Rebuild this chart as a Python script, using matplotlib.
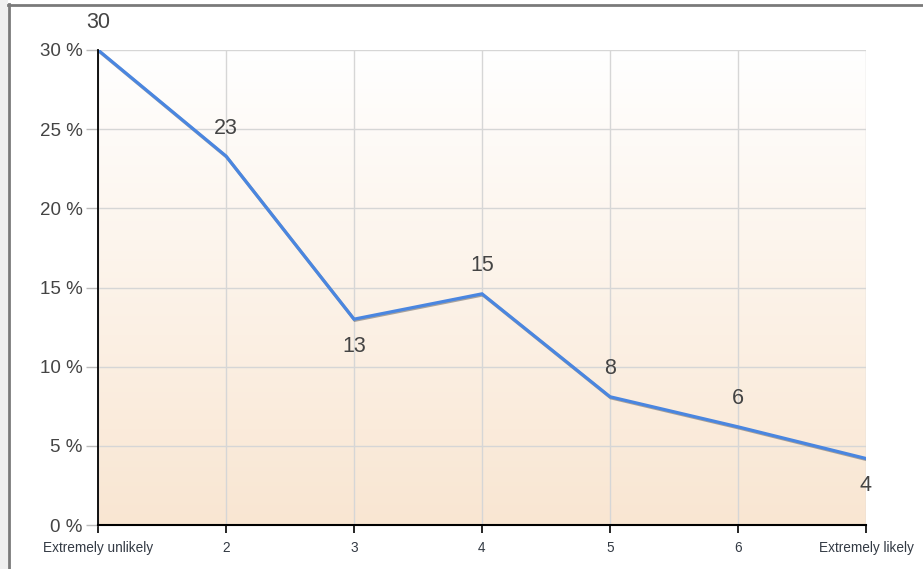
import numpy as np
import matplotlib
matplotlib.use("Agg")
import matplotlib.pyplot as plt
import matplotlib.patheffects as pe
from matplotlib.lines import Line2D
from matplotlib.patches import Rectangle
from matplotlib.colors import LinearSegmentedColormap

# ── Datos ─────────────────────────────────────────────────────────────────────
categorias = ["Extremely unlikely", "2", "3", "4", "5", "6", "Extremely likely"]
porcentajes = [30.0, 23.3, 13.0, 14.6, 8.1, 6.2, 4.2]
yticks = [0, 5, 10, 15, 20, 25, 30]

plt.rcParams["font.family"] = ["Liberation Sans", "DejaVu Sans"]

W, H = 923, 569
fig = plt.figure(figsize=(W / 100, H / 100), dpi=100)
fig.patch.set_facecolor("white")

# marco exterior
fig.add_artist(Rectangle((0, 0), 8 / W, 1, transform=fig.transFigure,
                         facecolor="#efefef", edgecolor="none"))
fig.add_artist(Line2D([8.5 / W, 8.5 / W], [0, 1 - 4 / H], transform=fig.transFigure,
                      color="#7a7a7a", lw=2))
fig.add_artist(Line2D([8 / W, 1], [1 - 4.5 / H, 1 - 4.5 / H], transform=fig.transFigure,
                      color="#7a7a7a", lw=2))

ax = fig.add_axes([98 / W, 1 - 525 / H, (866 - 98) / W, (525 - 50) / H])
x = np.arange(len(categorias))
ax.set_xlim(0, len(categorias) - 1)
ax.set_ylim(0, 30)

# fondo degradado
cmap = LinearSegmentedColormap.from_list("fondo", ["#f9e6d2", "#ffffff"])
grad = np.linspace(0, 1, 256).reshape(-1, 1)
ax.imshow(grad, aspect="auto", cmap=cmap, origin="lower",
          extent=[0, len(categorias) - 1, 0, 30], zorder=0)

for xv in x:
    ax.axvline(xv, color="#d6d6d6", lw=1, zorder=1)
for yv in yticks:
    ax.axhline(yv, color="#d6d6d6", lw=1, zorder=1)

ax.plot(x, porcentajes, color="#4a86e0", lw=2.3, zorder=3, solid_joinstyle="miter",
        path_effects=[pe.SimpleLineShadow(offset=(0.6, -0.8), shadow_color="#555555", alpha=0.5),
                      pe.Normal()])

# etiquetas de valor: debajo en los mínimos locales, encima en el resto
for i, v in enumerate(porcentajes):
    vecinos = [porcentajes[j] for j in (i - 1, i + 1) if 0 <= j < len(porcentajes)]
    abajo = all(v < n for n in vecinos)
    ax.annotate(f"{v:.0f}", (i, v), xytext=(0, -27 if abajo else 28),
                textcoords="offset pixels",
                ha="center", va="center", fontsize=15.5, color="#444444",
                zorder=4, annotation_clip=False)

ax.set_xticks(x)
ax.set_xticklabels(categorias, fontsize=9.8, color="#333a44")
ax.set_yticks(yticks)
ax.set_yticklabels([f"{t} %" for t in yticks], fontsize=13.5, color="#444444")
ax.tick_params(axis="x", direction="out", length=6, width=1.2, color="black", pad=5.5)
ax.tick_params(axis="y", direction="out", length=9, width=1, color="#bbbbbb", pad=2)

for s in ("top", "right"):
    ax.spines[s].set_visible(False)
ax.spines["left"].set_color("black")
ax.spines["left"].set_linewidth(1.3)
ax.spines["bottom"].set_color("black")
ax.spines["bottom"].set_linewidth(1.5)
for s in ("left", "bottom"):
    ax.spines[s].set_zorder(5)

fig.savefig("out.png", dpi=100)
